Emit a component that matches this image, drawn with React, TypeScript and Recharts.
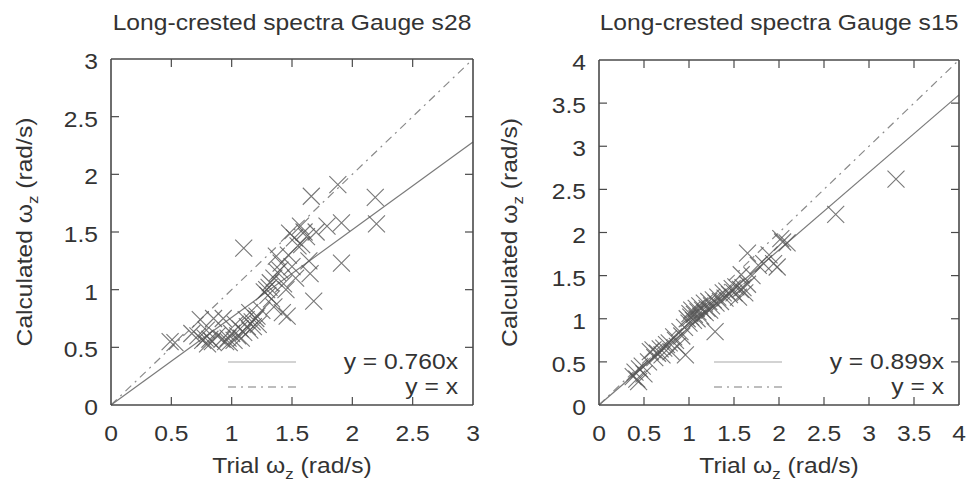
import React from 'react';
import { ScatterChart, Scatter, XAxis, YAxis, ReferenceLine, Label } from 'recharts';

// ---- Data: Gauge s28 (trial vs calculated zero-crossing frequency) ----
const s28Trial = [
  0.49, 0.53, 0.67, 0.72, 0.74, 0.76, 0.78, 0.79, 0.80, 0.82, 0.84, 0.85, 0.88, 0.92, 0.93, 0.95,
  0.97, 0.98, 1.00, 1.02, 1.03, 1.05, 1.07, 1.08, 1.10, 1.10, 1.12, 1.13, 1.15, 1.15, 1.17, 1.18,
  1.20, 1.21, 1.22, 1.25, 1.27, 1.29, 1.30, 1.31, 1.32, 1.33, 1.35, 1.35, 1.37, 1.38, 1.40, 1.41,
  1.42, 1.43, 1.45, 1.46, 1.47, 1.48, 1.50, 1.52, 1.53, 1.55, 1.57, 1.58, 1.60, 1.62, 1.64, 1.65,
  1.66, 1.68, 1.70, 1.79, 1.88, 1.91, 1.91, 2.19, 2.20,
];
const s28Calc = [
  0.55, 0.54, 0.62, 0.60, 0.74, 0.56, 0.58, 0.65, 0.53, 0.57, 0.55, 0.75, 0.60, 0.57, 0.75, 0.55,
  0.58, 0.54, 0.62, 0.56, 0.70, 0.60, 0.66, 0.58, 0.63, 1.36, 0.74, 0.68, 0.65, 0.80, 0.72, 0.68,
  0.75, 0.77, 0.70, 0.82, 0.98, 1.00, 0.95, 1.02, 1.06, 0.92, 1.10, 0.85, 1.29, 1.15, 1.17, 1.23,
  0.80, 1.05, 1.00, 0.77, 1.30, 1.49, 1.20, 1.45, 1.10, 1.38, 1.55, 1.39, 1.50, 1.46, 1.25, 1.14,
  1.81, 0.90, 1.50, 1.55, 1.91, 1.58, 1.23, 1.80, 1.57,
];

// ---- Data: Gauge s15 ----
const s15Trial = [
  0.38, 0.40, 0.42, 0.44, 0.45, 0.48, 0.50, 0.55, 0.57, 0.60, 0.62, 0.65, 0.68, 0.70, 0.72, 0.75,
  0.78, 0.80, 0.83, 0.85, 0.87, 0.90, 0.92, 0.95, 0.96, 0.98, 1.00, 1.01, 1.02, 1.03, 1.05, 1.06,
  1.08, 1.09, 1.10, 1.12, 1.13, 1.15, 1.17, 1.18, 1.20, 1.22, 1.23, 1.25, 1.27, 1.29, 1.30, 1.32,
  1.35, 1.38, 1.40, 1.42, 1.45, 1.48, 1.50, 1.52, 1.55, 1.57, 1.58, 1.60, 1.62, 1.65, 1.65, 1.70,
  1.77, 1.83, 1.89, 1.94, 1.98, 2.02, 2.04, 2.09, 2.63, 3.30,
];
const s15Calc = [
  0.33, 0.38, 0.30, 0.27, 0.42, 0.45, 0.36, 0.50, 0.62, 0.64, 0.55, 0.60, 0.65, 0.58, 0.66, 0.70,
  0.72, 0.62, 0.79, 0.75, 0.68, 0.85, 0.80, 0.90, 0.58, 1.00, 0.95, 1.06, 1.02, 1.10, 0.98, 1.05,
  1.12, 1.00, 1.08, 1.15, 1.03, 1.10, 1.18, 1.07, 1.12, 1.20, 1.10, 1.15, 1.22, 0.85, 1.18, 1.25,
  1.20, 1.30, 1.24, 1.32, 1.28, 1.35, 1.30, 1.37, 1.25, 1.34, 1.51, 1.36, 1.30, 1.76, 1.40, 1.50,
  1.62, 1.64, 1.74, 1.64, 1.60, 1.93, 1.89, 1.88, 2.21, 2.62,
];

const s28Ticks = [0, 0.5, 1, 1.5, 2, 2.5, 3];
const s15Ticks = [0, 0.5, 1, 1.5, 2, 2.5, 3, 3.5, 4];
const s28Slope = 0.76;
const s15Slope = 0.899;

const FONT = '"Liberation Sans", Arial, Helvetica, sans-serif';
const SX = 1.12;
const TEXT = '#333';
const AXIS = '#4a4a4a';
const H = 482;
const TICK_LEN = 8;

type Pt = { x: number; y: number };
const build = (xs: number[], ys: number[]): Pt[] => xs.map((x, i) => ({ x, y: ys[i] }));

const fmt = (v: number) => String(v);

const Cross = (props: any) => {
  const { cx, cy } = props;
  if (cx == null || cy == null) return <g />;
  const r = 8.5;
  return (
    <path
      d={`M${cx - r},${cy - r}L${cx + r},${cy + r}M${cx - r},${cy + r}L${cx + r},${cy - r}`}
      stroke="#555"
      strokeWidth={1.1}
      strokeOpacity={0.8}
      fill="none"
    />
  );
};

const Nothing = () => <g />;

const Txt = ({ x, y, anchor = 'middle', size = 22, children, rot = false }: any) => (
  <text
    transform={`translate(${x},${y})${rot ? ' rotate(-90)' : ''} scale(${SX},1)`}
    textAnchor={anchor}
    fontFamily={FONT}
    fontSize={size}
    fill={TEXT}
  >
    {children}
  </text>
);

type PanelProps = {
  width: number;
  title: string;
  data: Pt[];
  max: number;
  ticks: number[];
  slope: number;
  plotLeft: number;
  plotRight: number;
  plotTop: number;
  plotBottom: number;
  yLabelX: number;
};

const Panel = (p: PanelProps) => {
  const { width, title, data, max, ticks, slope, plotLeft, plotRight, plotTop, plotBottom, yLabelX } = p;
  const cxPlot = (plotLeft + plotRight) / 2;
  const cyPlot = (plotTop + plotBottom) / 2;

  const inner = (v: number) => v > 0 && v < max;

  const bottomTick = (t: any) => (
    <g>
      <line x1={t.x} x2={t.x} y1={t.y} y2={inner(t.payload.value) ? t.y - TICK_LEN : t.y} stroke={AXIS} strokeWidth={1.2} />
      <Txt x={t.x} y={t.y + 36}>{fmt(t.payload.value)}</Txt>
    </g>
  );
  const topTick = (t: any) => (
    <g>
      <line x1={t.x} x2={t.x} y1={t.y} y2={inner(t.payload.value) ? t.y + TICK_LEN : t.y} stroke={AXIS} strokeWidth={1.2} />
    </g>
  );
  const leftTick = (t: any) => (
    <g>
      <line x1={t.x} x2={inner(t.payload.value) ? t.x + TICK_LEN : t.x} y1={t.y} y2={t.y} stroke={AXIS} strokeWidth={1.2} />
      <Txt x={t.x - 13} y={t.y + 10} anchor="end">{fmt(t.payload.value)}</Txt>
    </g>
  );
  const rightTick = (t: any) => (
    <g>
      <line x1={t.x} x2={inner(t.payload.value) ? t.x - TICK_LEN : t.x} y1={t.y} y2={t.y} stroke={AXIS} strokeWidth={1.2} />
    </g>
  );

  const xLabel = () => (
    <Txt x={cxPlot} y={plotBottom + 68} size={22}>
      Trial ω<tspan dy={6} fontSize={15}>z</tspan>
      <tspan dy={-6}> (rad/s)</tspan>
    </Txt>
  );
  const yLabel = () => (
    <Txt x={yLabelX + 7} y={cyPlot} rot size={22}>
      Calculated ω<tspan dy={6} fontSize={15}>z</tspan>
      <tspan dy={-6}> (rad/s)</tspan>
    </Txt>
  );
  const titleLabel = () => (
    <Txt x={cxPlot} y={30} size={22}>{title}</Txt>
  );

  const axisLine = { stroke: AXIS, strokeWidth: 1.6 };

  return (
    <div style={{ position: 'relative', width, height: H }}>
      <ScatterChart
        width={width}
        height={H}
        margin={{ top: plotTop - 1, right: width - plotRight - 1, bottom: 0, left: 0 }}
      >
        <XAxis
          xAxisId="b"
          type="number"
          dataKey="x"
          domain={[0, max]}
          ticks={ticks}
          height={H - plotBottom}
          axisLine={axisLine}
          tickLine={false}
          tickSize={0}
          tickMargin={0}
          tick={bottomTick}
        >
          <Label content={xLabel} />
        </XAxis>
        <XAxis
          xAxisId="t"
          orientation="top"
          type="number"
          dataKey="x"
          domain={[0, max]}
          ticks={ticks}
          height={1}
          axisLine={axisLine}
          tickLine={false}
          tickSize={0}
          tickMargin={0}
          tick={topTick}
        >
          <Label content={titleLabel} />
        </XAxis>
        <YAxis
          yAxisId="l"
          type="number"
          dataKey="y"
          domain={[0, max]}
          ticks={ticks}
          width={plotLeft}
          axisLine={axisLine}
          tickLine={false}
          tickSize={0}
          tickMargin={0}
          tick={leftTick}
        >
          <Label content={yLabel} />
        </YAxis>
        <YAxis
          yAxisId="r"
          orientation="right"
          type="number"
          dataKey="y"
          domain={[0, max]}
          ticks={ticks}
          width={1}
          axisLine={axisLine}
          tickLine={false}
          tickSize={0}
          tickMargin={0}
          tick={rightTick}
        />
        <ReferenceLine
          xAxisId="b"
          yAxisId="l"
          segment={[{ x: 0, y: 0 }, { x: max, y: max }]}
          stroke="#8a8a8a"
          strokeWidth={1.2}
          strokeDasharray="8 5 2 5"
        />
        <ReferenceLine
          xAxisId="b"
          yAxisId="l"
          segment={[{ x: 0, y: 0 }, { x: max, y: slope * max }]}
          stroke="#7a7a7a"
          strokeWidth={1.2}
        />
        {/* invisible series that binds the mirrored top/right axes */}
        <Scatter xAxisId="t" yAxisId="r" data={data} shape={Nothing} isAnimationActive={false} />
        <Scatter xAxisId="b" yAxisId="l" data={data} shape={Cross} isAnimationActive={false} />
      </ScatterChart>
      {/* legend (inside plot, bottom right) */}
      <svg
        width={width}
        height={H}
        style={{ position: 'absolute', left: 0, top: 0, pointerEvents: 'none' }}
      >
        <line x1={plotRight - 245} x2={plotRight - 177} y1={362} y2={362} stroke="#c4c4c4" strokeWidth={1.6} />
        <line x1={plotRight - 245} x2={plotRight - 177} y1={387} y2={387} stroke="#a8a8a8" strokeWidth={1.6} strokeDasharray="8 5 2 5" />
        <Txt x={plotRight - 15} y={369} anchor="end">{`y = ${slope.toFixed(3)}x`}</Txt>
        <Txt x={plotRight - 15} y={394} anchor="end">y = x</Txt>
      </svg>
    </div>
  );
};

export default function App() {
  const s28 = build(s28Trial, s28Calc);
  const s15 = build(s15Trial, s15Calc);
  return (
    <div
      style={{
        position: 'absolute',
        left: 0,
        top: 0,
        width: 967,
        height: H,
        background: '#fff',
        display: 'flex',
      }}
    >
      <Panel
        width={483}
        title="Long-crested spectra Gauge s28"
        data={s28}
        max={3}
        ticks={s28Ticks}
        slope={s28Slope}
        plotLeft={111}
        plotRight={473}
        plotTop={59}
        plotBottom={405}
        yLabelX={25}
      />
      <Panel
        width={484}
        title="Long-crested spectra Gauge s15"
        data={s15}
        max={4}
        ticks={s15Ticks}
        slope={s15Slope}
        plotLeft={116}
        plotRight={476}
        plotTop={60}
        plotBottom={405}
        yLabelX={27}
      />
    </div>
  );
}
